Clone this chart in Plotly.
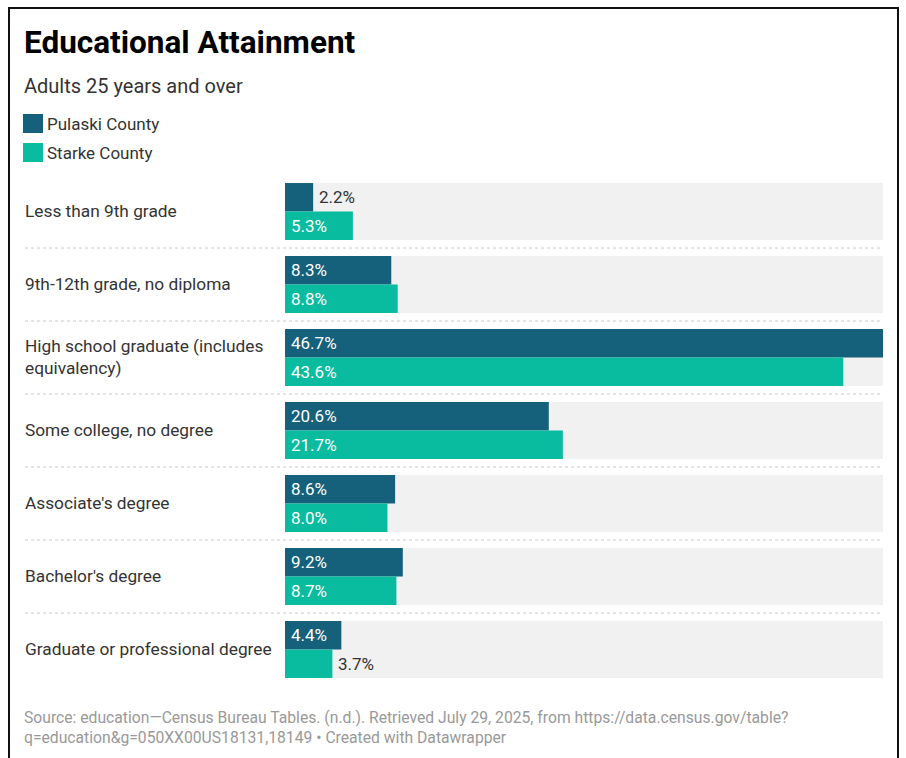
import plotly.graph_objects as go

categories = [
    "Less than 9th grade",
    "9th-12th grade, no diploma",
    "High school graduate (includes<br>equivalency)",
    "Some college, no degree",
    "Associate's degree",
    "Bachelor's degree",
    "Graduate or professional degree",
]
series_names = ["Pulaski County", "Starke County"]
pulaski = [2.2, 8.3, 46.7, 20.6, 8.6, 9.2, 4.4]
starke = [5.3, 8.8, 43.6, 21.7, 8.0, 8.7, 3.7]
colors = ["#15607a", "#09bb9f"]

W, H = 906, 758
FONT = "Roboto"


def px(x):
    return x / W


def py(y):
    return 1 - y / H


n = len(categories)
ypos = list(range(n))
xmax = max(max(pulaski), max(starke))

fig = go.Figure()

# background bars
fig.add_trace(go.Bar(
    y=ypos, x=[xmax] * n, orientation="h", width=0.78, offset=-0.39,
    marker=dict(color="#f1f1f1", line=dict(width=0)), hoverinfo="skip", showlegend=False,
))
for vals, col, off, name in [(pulaski, colors[0], -0.39, series_names[0]),
                              (starke, colors[1], 0.0, series_names[1])]:
    fig.add_trace(go.Bar(
        y=ypos, x=vals, orientation="h", width=0.39, offset=off, name=name,
        marker=dict(color=col, line=dict(width=0)), showlegend=False,
    ))

annotations = []
# value labels
for vals, shift in [(pulaski, -0.195), (starke, 0.195)]:
    for i, v in enumerate(vals):
        inside = v >= 4.0
        annotations.append(dict(
            x=0 if inside else v, y=i + shift, xref="x", yref="y",
            text=f"{v:.1f}%", showarrow=False, xanchor="left", yanchor="middle",
            xshift=4, font=dict(family=FONT, size=17, color="#ffffff" if inside else "#333333"),
        ))
# category labels
for i, c in enumerate(categories):
    annotations.append(dict(
        x=px(23), y=i - 0.01, xref="paper", yref="y", text=c, showarrow=False,
        xanchor="left", yanchor="middle", align="left",
        font=dict(family=FONT, size=17.3, color="#333333"),
    ))

# title, subtitle
annotations.append(dict(x=px(22), y=py(42), xref="paper", yref="paper",
                        text="<b>Educational Attainment</b>", showarrow=False,
                        xanchor="left", yanchor="middle",
                        font=dict(family=FONT, size=31.5, color="#000000")))
annotations.append(dict(x=px(22), y=py(86), xref="paper", yref="paper",
                        text="Adults 25 years and over", showarrow=False,
                        xanchor="left", yanchor="middle",
                        font=dict(family=FONT, size=20, color="#333333")))

shapes = []
# legend
for k, (name, col) in enumerate(zip(series_names, colors)):
    top = 114 + 29 * k
    shapes.append(dict(type="rect", xref="paper", yref="paper",
                       x0=px(23), x1=px(43), y0=py(top), y1=py(top + 19),
                       fillcolor=col, line=dict(width=0)))
    annotations.append(dict(x=px(45), y=py(top + 10), xref="paper", yref="paper",
                            text=name, showarrow=False, xanchor="left", yanchor="middle",
                            font=dict(family=FONT, size=17, color="#333333")))

# separators
for i in range(n - 1):
    shapes.append(dict(type="line", xref="paper", yref="y",
                       x0=px(25), x1=px(883), y0=i + 0.5, y1=i + 0.5,
                       line=dict(color="#c8c8c8", width=1, dash="dot")))

# footer
annotations.append(dict(
    x=px(22), y=py(727), xref="paper", yref="paper",
    text="Source: education—Census Bureau Tables. (n.d.). Retrieved July 29, 2025, from https://data.census.gov/table?<br>q=education&g=050XX00US18131,18149 • Created with Datawrapper",
    showarrow=False, xanchor="left", yanchor="middle", align="left",
    font=dict(family=FONT, size=15.7, color="#999999"),
))

# border
shapes.append(dict(type="rect", xref="paper", yref="paper",
                   x0=px(9), x1=px(898), y0=py(8), y1=py(770),
                   line=dict(color="#111111", width=2), fillcolor="rgba(0,0,0,0)"))

fig.update_layout(
    width=W, height=H, margin=dict(l=0, r=0, t=0, b=0),
    paper_bgcolor="white", plot_bgcolor="white",
    barmode="overlay", showlegend=False,
    xaxis=dict(domain=[px(285), px(883)], range=[0, xmax], visible=False, fixedrange=True),
    yaxis=dict(domain=[py(686), py(175)], range=[n - 0.5, -0.5], visible=False, fixedrange=True),
    annotations=annotations, shapes=shapes,
    font=dict(family=FONT),
)

fig.write_html("out.html")
